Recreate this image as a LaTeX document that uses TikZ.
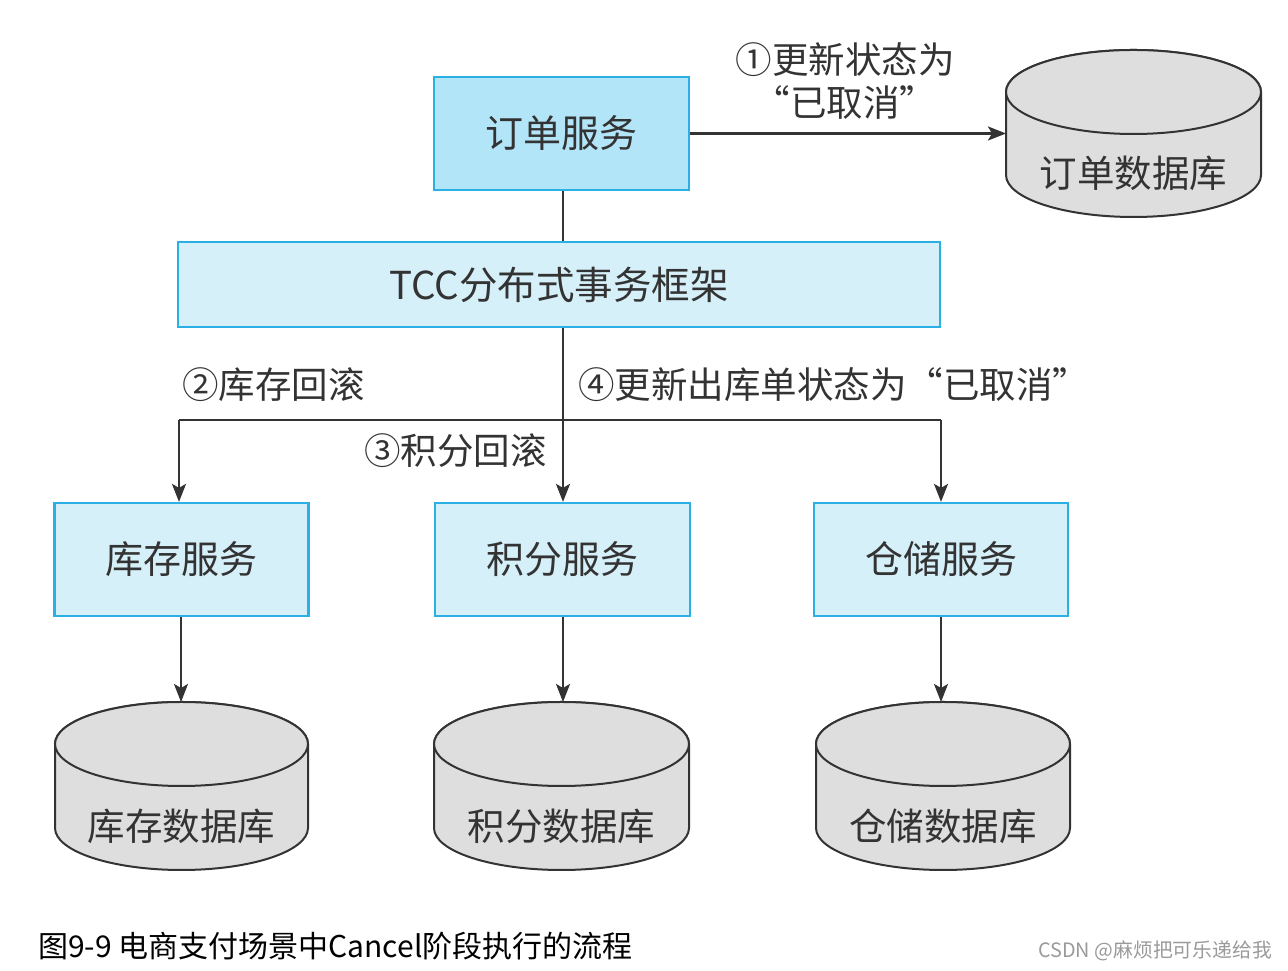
\documentclass[tikz,border=0pt]{standalone}
\usepackage{fontspec}
\setmainfont{Noto Sans CJK SC}
\usetikzlibrary{arrows.meta}
\definecolor{boxdark}{HTML}{B3E5F9}
\definecolor{boxlight}{HTML}{D6F0FA}
\definecolor{boxline}{HTML}{2BB0E6}
\definecolor{dbfill}{HTML}{DEDEDE}
\definecolor{ink}{HTML}{333333}
\definecolor{wm}{HTML}{9A9A9A}
\tikzset{
  svcbox/.style={draw=boxline, line width=2.2pt, fill=boxlight, minimum width=254pt, minimum height=113pt, inner sep=0pt, text=ink, font=\fontsize{38pt}{42pt}\selectfont},
  lbl/.style={text=ink, inner sep=0pt, font=\fontsize{36.5pt}{42pt}\selectfont},
  conn/.style={draw=ink, line width=2.2pt},
  arr/.style={conn, -{Stealth[length=18pt,width=14pt,inset=4pt]}},
  dbshape/.style={draw=ink, line width=2pt, fill=dbfill},
}
% #1 name, #2 cx, #3 rx, #4 top center y, #5 bottom center y, #6 text
\newcommand{\mydb}[6]{%
  \filldraw[dbshape] (#2-#3,#4) -- (#2-#3,#5) arc[start angle=180,end angle=360,x radius=#3,y radius=42] -- (#2+#3,#4) arc[start angle=0,end angle=180,x radius=#3,y radius=42] -- cycle;
  \draw[dbshape] (#2,#4) ellipse[x radius=#3,y radius=42];
  \coordinate (#1-top) at (#2,#4+42);
  \coordinate (#1-left) at (#2-#3,#4-42);
  \node[lbl, font=\fontsize{37.5pt}{42pt}\selectfont] (#1) at (#2,#5+2) {#6};
}
\begin{document}
\begin{tikzpicture}[x=1pt,y=1pt]
\useasboundingbox[fill=white] (0,0) rectangle (1288,971);

% order service
\node[svcbox, fill=boxdark, minimum width=255pt] (order) at (561.5,837.5) {订单服务};
\mydb{orderdb}{1133.5}{127.5}{879}{796}{订单数据库}
\draw[arr] (order.east) -- (orderdb-left |- order.east);
\node[lbl] (l1a) at (845,911) {①更新状态为};
\node[lbl] (l1b) at (845,868) {“已取消”};

% TCC framework
\node[svcbox, minimum width=762pt, minimum height=85pt, font=\fontsize{38.5pt}{42pt}\selectfont] (tcc) at (559,686.5) {TCC分布式事务框架};
\draw[conn] (order.south -| 563,0) -- (tcc.north -| 563,0);

% bottom services
\node[svcbox] (kc) at (181.5,411.5) {库存服务};
\node[svcbox, minimum width=255pt] (jf) at (562.5,411.5) {积分服务};
\node[svcbox] (cc) at (941,411.5) {仓储服务};

% branches
\coordinate (bl) at (179,551);
\coordinate (br) at (941,551);
\draw[arr] (tcc.south -| 563,0) -- (jf.north -| 563,0);
\draw[conn] (bl) -- (br);
\draw[arr] (bl) -- (bl |- kc.north);
\draw[arr] (br) -- (br |- cc.north);

\node[lbl, anchor=west] (l2) at (182,586) {②库存回滚};
\node[lbl, anchor=east] (l3) at (547,520) {③积分回滚};
\node[lbl, anchor=west] (l4) at (578,586) {④更新出库单状态为“已取消”};

% databases
\mydb{kcdb}{181.5}{126.5}{227}{143}{库存数据库}
\mydb{jfdb}{561.5}{127.5}{227}{143}{积分数据库}
\mydb{ccdb}{943}{127}{227}{143}{仓储数据库}
\draw[arr] (kc.south -| 181,0) -- (kcdb-top -| 181,0);
\draw[arr] (jf.south -| 563,0) -- (jfdb-top -| 563,0);
\draw[arr] (cc.south -| 941,0) -- (ccdb-top -| 941,0);

% caption and watermark
\node[anchor=west, inner sep=0pt, font=\fontsize{30pt}{33pt}\selectfont] (cap) at (38,25) {图9-9 电商支付场景中Cancel阶段执行的流程};
\node[anchor=east, inner sep=0pt, text=wm, font=\fontsize{19.8pt}{22pt}\selectfont] (wmk) at (1272,20) {CSDN @麻烦把可乐递给我};
\end{tikzpicture}
\end{document}
